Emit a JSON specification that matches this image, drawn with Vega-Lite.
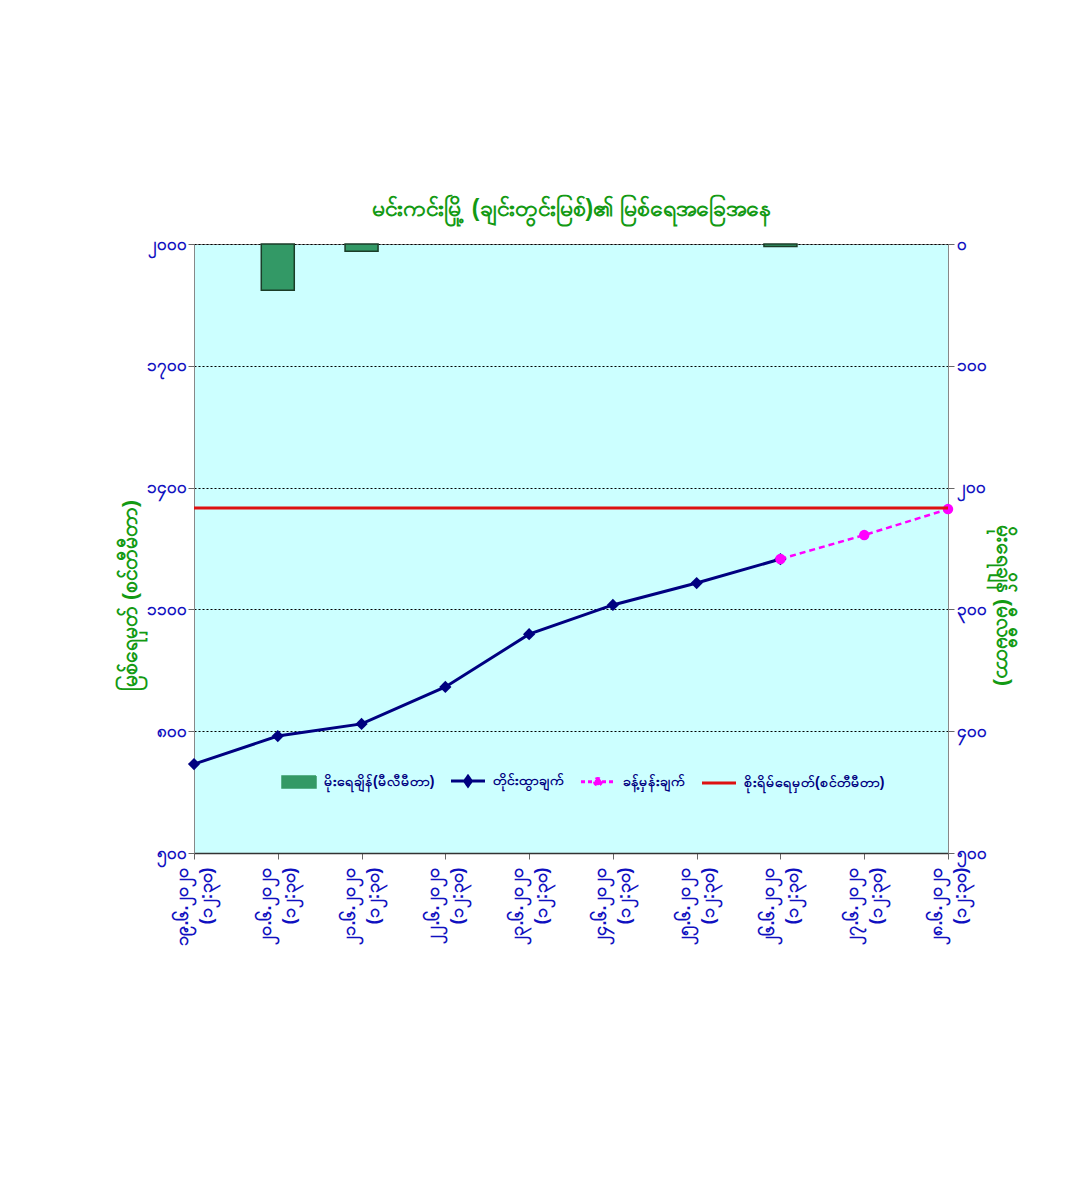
{
  "$schema": "https://vega.github.io/schema/vega-lite/v6.json",
  "width": 754,
  "height": 609,
  "autosize": {"type": "none"},
  "padding": {"left": 194, "top": 244, "right": 138, "bottom": 347},
  "background": "white",
  "title": {
    "text": "မင်းကင်းမြို့ (ချင်းတွင်းမြစ်)၏ မြစ်ရေအခြေအနေ",
    "color": "#139a13",
    "fontSize": 23,
    "fontWeight": "bold",
    "offset": 14,
    "anchor": "middle"
  },
  "datasets": {
    "main": [
      {"date": "၁၉.၆.၂၀၂၀|(၁၂:၃၀)", "obs": 719, "fcst": null, "rain": null},
      {"date": "၂၀.၆.၂၀၂၀|(၁၂:၃၀)", "obs": 788, "fcst": null, "rain": 38},
      {"date": "၂၁.၆.၂၀၂၀|(၁၂:၃၀)", "obs": 818, "fcst": null, "rain": 6},
      {"date": "၂၂.၆.၂၀၂၀|(၁၂:၃၀)", "obs": 909, "fcst": null, "rain": null},
      {"date": "၂၃.၆.၂၀၂၀|(၁၂:၃၀)", "obs": 1039, "fcst": null, "rain": null},
      {"date": "၂၄.၆.၂၀၂၀|(၁၂:၃၀)", "obs": 1111, "fcst": null, "rain": null},
      {"date": "၂၅.၆.၂၀၂၀|(၁၂:၃၀)", "obs": 1165, "fcst": null, "rain": null},
      {"date": "၂၆.၆.၂၀၂၀|(၁၂:၃၀)", "obs": 1224, "fcst": 1224, "rain": 2},
      {"date": "၂၇.၆.၂၀၂၀|(၁၂:၃၀)", "obs": null, "fcst": 1283, "rain": null},
      {"date": "၂၈.၆.၂၀၂၀|(၁၂:၃၀)", "obs": null, "fcst": 1347, "rain": null}
    ],
    "danger": [{"danger": 1350}]
  },
  "layer": [
    {
      "data": {"name": "main"},
      "mark": {"type": "bar", "width": 33, "stroke": "#1b3d28", "strokeWidth": 1.5},
      "encoding": {
        "x": {"field": "date", "type": "ordinal"},
        "y": {
          "field": "rain",
          "type": "quantitative",
          "scale": {"domain": [0, 500], "reverse": true, "nice": false},
          "axis": {
            "orient": "right",
            "values": [0, 100, 200, 300, 400, 500],
            "grid": false,
            "title": "မိုးရေချိန် (မီလီမီတာ)",
            "titleColor": "#139a13",
            "titleFontSize": 21,
            "titleFontWeight": "bold",
            "titleY": 361,
            "titlePadding": 6,
            "labelExpr": "replace(replace(replace(replace(replace(replace(replace(replace(replace(replace(format(datum.value,'d'),regexp('0','g'),'၀'),regexp('1','g'),'၁'),regexp('2','g'),'၂'),regexp('3','g'),'၃'),regexp('4','g'),'၄'),regexp('5','g'),'၅'),regexp('6','g'),'၆'),regexp('7','g'),'၇'),regexp('8','g'),'၈'),regexp('9','g'),'၉')",
            "labelColor": "#1010c0",
            "labelFontSize": 17,
            "labelFontWeight": "bold",
            "tickSize": 6,
            "tickColor": "#666",
            "domainColor": "#888"
          }
        },
        "color": {"datum": "မိုးရေချိန်(မီလီမီတာ)"}
      }
    },
    {
      "layer": [
        {
          "data": {"name": "main"},
          "mark": {"type": "line", "strokeWidth": 3},
          "encoding": {
            "x": {"field": "date", "type": "ordinal"},
            "y": {
              "field": "obs",
              "type": "quantitative",
              "scale": {"domain": [500, 2000], "nice": false, "zero": false},
              "axis": {
                "orient": "left",
                "values": [500, 800, 1100, 1400, 1700, 2000],
                "grid": true,
                "gridColor": "#000",
                "gridDash": [2, 2],
                "gridWidth": 1,
                "title": "မြစ်ရေမှတ် (စင်တီမီတာ)",
                "titleColor": "#139a13",
                "titleFontSize": 21,
                "titleFontWeight": "bold",
                "titleY": 351,
                "titlePadding": 6,
                "labelExpr": "replace(replace(replace(replace(replace(replace(replace(replace(replace(replace(format(datum.value,'d'),regexp('0','g'),'၀'),regexp('1','g'),'၁'),regexp('2','g'),'၂'),regexp('3','g'),'၃'),regexp('4','g'),'၄'),regexp('5','g'),'၅'),regexp('6','g'),'၆'),regexp('7','g'),'၇'),regexp('8','g'),'၈'),regexp('9','g'),'၉')",
                "labelColor": "#1010c0",
                "labelFontSize": 17,
                "labelFontWeight": "bold",
                "tickSize": 6,
                "tickColor": "#666",
                "domainColor": "#888"
              }
            },
            "color": {"datum": "တိုင်းထွာချက်"}
          }
        },
        {
          "data": {"name": "main"},
          "mark": {"type": "point", "filled": true, "size": 150, "opacity": 1, "shape": "diamond"},
          "encoding": {
            "x": {"field": "date", "type": "ordinal"},
            "y": {"field": "obs", "type": "quantitative"},
            "color": {"datum": "တိုင်းထွာချက်"}
          }
        },
        {
          "data": {"name": "main"},
          "mark": {"type": "line", "strokeWidth": 2.5, "strokeDash": [6, 4]},
          "encoding": {
            "x": {"field": "date", "type": "ordinal"},
            "y": {"field": "fcst", "type": "quantitative"},
            "color": {"datum": "ခန့်မှန်းချက်"}
          }
        },
        {
          "data": {"name": "main"},
          "mark": {"type": "point", "filled": true, "size": 110, "opacity": 1, "shape": "circle"},
          "encoding": {
            "x": {"field": "date", "type": "ordinal"},
            "y": {"field": "fcst", "type": "quantitative"},
            "color": {"datum": "ခန့်မှန်းချက်"}
          }
        },
        {
          "data": {"name": "danger"},
          "mark": {"type": "rule", "strokeWidth": 3},
          "encoding": {
            "y": {"field": "danger", "type": "quantitative"},
            "color": {"datum": "စိုးရိမ်ရေမှတ်(စင်တီမီတာ)"}
          }
        }
      ]
    }
  ],
  "resolve": {"scale": {"y": "independent"}},
  "config": {
    "view": {"fill": "#ccffff", "stroke": "#888", "strokeWidth": 1},
    "axisX": {
      "title": null,
      "labelAngle": 270,
      "labelExpr": "split(datum.label, '|')",
      "labelColor": "#1010c0",
      "labelFontSize": 18,
      "labelFontWeight": "bold",
      "labelLineHeight": 24,
      "labelPadding": 8,
      "labelOffset": -12,
      "tickSize": 6,
      "tickColor": "#666",
      "domainColor": "#333",
      "domainWidth": 1.5
    }
  },
  "encoding": {
    "color": {
      "scale": {
        "domain": ["မိုးရေချိန်(မီလီမီတာ)", "တိုင်းထွာချက်", "ခန့်မှန်းချက်", "စိုးရိမ်ရေမှတ်(စင်တီမီတာ)"],
        "range": ["#339966", "#000080", "#ff00ff", "#dd1111"]
      },
      "legend": {
        "orient": "none",
        "legendX": 98,
        "legendY": 530,
        "direction": "horizontal",
        "columns": 4,
        "title": null,
        "labelColor": "#000080",
        "labelFontSize": 14,
        "labelFontWeight": "bold",
        "labelOffset": 18,
        "columnPadding": 10,
        "symbolSize": 1156,
        "encode": {
          "symbols": {
            "update": {
              "shape": {"signal": "datum.value === 'မိုးရေချိန်(မီလီမီတာ)' ? 'M-1,-0.35H1V0.35H-1Z' : datum.value === 'တိုင်းထွာချက်' ? 'M-1,0H1M0,-0.28L0.2,0L0,0.28L-0.2,0Z' : datum.value === 'ခန့်မှန်းချက်' ? 'M-1,0H1M-0.2,0A0.2,0.2 0 1,0 0.2,0A0.2,0.2 0 1,0 -0.2,0Z' : 'M-1,0H1'"},
              "fill": {"signal": "datum.value === 'စိုးရိမ်ရေမှတ်(စင်တီမီတာ)' ? 'transparent' : scale('color', datum.value)"},
              "stroke": {"signal": "datum.value === 'မိုးရေချိန်(မီလီမီတာ)' ? '#1b3d28' : scale('color', datum.value)"},
              "strokeWidth": {"signal": "datum.value === 'မိုးရေချိန်(မီလီမီတာ)' ? 1.5 : 3"},
              "strokeDash": {"signal": "datum.value === 'ခန့်မှန်းချက်' ? [4, 3] : [1, 0]"},
              "opacity": {"value": 1}
            }
          }
        }
      }
    },
    "x": {
      "scale": {
        "type": "point",
        "padding": 0,
        "domain": ["၁၉.၆.၂၀၂၀|(၁၂:၃၀)", "၂၀.၆.၂၀၂၀|(၁၂:၃၀)", "၂၁.၆.၂၀၂၀|(၁၂:၃၀)", "၂၂.၆.၂၀၂၀|(၁၂:၃၀)", "၂၃.၆.၂၀၂၀|(၁၂:၃၀)", "၂၄.၆.၂၀၂၀|(၁၂:၃၀)", "၂၅.၆.၂၀၂၀|(၁၂:၃၀)", "၂၆.၆.၂၀၂၀|(၁၂:၃၀)", "၂၇.၆.၂၀၂၀|(၁၂:၃၀)", "၂၈.၆.၂၀၂၀|(၁၂:၃၀)"]
      }
    }
  }
}
